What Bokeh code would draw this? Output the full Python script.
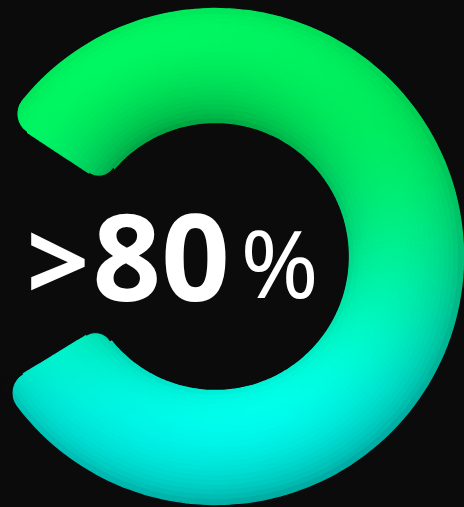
import numpy as np
from bokeh.plotting import figure
from bokeh.models import Range1d, GlobalInlineStyleSheet
from bokeh.embed import file_html
from bokeh.resources import INLINE
from bokeh.core.properties import value

# ---------------- data ----------------
percent = [82]
label_prefix = [">"]
label_value = ["80"]
label_suffix = ["%"]

# ---------------- style ----------------
BG = "#0b0b0b"
TOP_RGB = np.array([0, 248, 98])
BOTTOM_RGB = np.array([0, 255, 242])
W, H = 464, 507
CX, CY = 215.0, 251.0          # centre (y up, page pixels)
R_OUT, R_IN = 248.0, 134.0
GAP_CENTER = 179.0             # degrees
RHO_OUT, RHO_IN = 22.0, 17.0   # corner rounding
NA, NR = 148, 24

p = figure(width=W, height=H, x_range=Range1d(0, W), y_range=Range1d(0, H),
           output_backend="svg", toolbar_location=None, min_border=0,
           x_axis_type=None, y_axis_type=None,
           background_fill_color=BG, border_fill_color=BG, outline_line_color=None)
p.grid.visible = False
p.stylesheets = [GlobalInlineStyleSheet(css="html, body { background: %s; }" % BG)]

span = percent[0] / 100.0 * 360.0
gap = 360.0 - span
a_top = np.radians(GAP_CENTER - gap / 2.0)
a_bot = np.radians(GAP_CENTER + gap / 2.0 - 360.0)

a_edges = np.linspace(a_bot, a_top, NA + 1)
r_edges = np.linspace(R_IN, R_OUT, NR + 1)
A0, R0 = np.meshgrid(a_edges[:-1], r_edges[:-1], indexing="ij")
A1, R1 = np.meshgrid(a_edges[1:], r_edges[1:], indexing="ij")
A0, A1, R0, R1 = A0.ravel(), A1.ravel(), R0.ravel(), R1.ravel()
ac = (A0 + A1) / 2
rc = (R0 + R1) / 2

# vertical gradient (top green -> bottom cyan)
ycell = CY + rc * np.sin(ac)
top_y, bot_y = CY + R_OUT, CY - R_OUT
t = np.clip((top_y - ycell) / (top_y - bot_y), 0, 1)
u_ = np.clip((t - 0.18) / 0.72, 0, 1)
t = u_ * u_ * (3 - 2 * u_)
base = TOP_RGB[None, :] + t[:, None] * (BOTTOM_RGB - TOP_RGB)[None, :]

# tube shading
mid = (R_OUT + R_IN) / 2
half = (R_OUT - R_IN) / 2
s = np.clip((rc - mid) / half, -1, 1)
ux, uy = np.cos(ac), np.sin(ac)
L = np.array([-0.25, 0.55, 0.8])
L = L / np.linalg.norm(L)
ndotl = s * ux * L[0] + s * uy * L[1] + np.sqrt(1 - s ** 2) * L[2]
d = np.clip((ndotl + 0.6) / 1.6, 0, 1)
b = 0.62 + 0.38 * d
rgb = np.clip(base * b[:, None], 0, 255).astype(int)
colors = ["#%02x%02x%02x" % tuple(c) for c in rgb]

p.annular_wedge(x=CX, y=CY, inner_radius=R0, outer_radius=R1,
                start_angle=A0, end_angle=A1, direction="anticlock",
                fill_color=colors, line_color=colors, line_width=1.3)

# rounded end corners (background masks)
def corner_mask(theta, rad, inward, tdir, rho):
    u = np.array([np.cos(theta), np.sin(theta)])
    tt = tdir * np.array([-np.sin(theta), np.cos(theta)])
    dvec = inward * u
    P = np.array([CX, CY]) + rad * u
    C = P + rho * dvec + rho * tt
    beta = np.linspace(0, np.pi / 2, 20)
    arc = [C - rho * (np.cos(bb) * dvec + np.sin(bb) * tt) for bb in beta]
    Bp = P + rho * tt
    Ap = P + rho * dvec
    out = P - 4 * dvec - 4 * tt
    pts = [Bp - 4 * dvec] + arc + [Ap - 4 * tt, out]
    return [q[0] for q in pts], [q[1] for q in pts]

xs, ys = [], []
for theta, tdir in ((a_top, -1), (a_bot, 1)):
    for rad, inward, rho in ((R_OUT, -1, RHO_OUT), (R_IN, 1, RHO_IN)):
        mx, my = corner_mask(theta, rad, inward, tdir, rho)
        xs.append(mx)
        ys.append(my)
p.patches(xs, ys, fill_color=BG, line_color=BG, line_width=1)

# label
BASE_Y = 250
p.text(x=[26], y=[BASE_Y], text=label_prefix, text_font=value("Noto Sans"),
       text_font_style="bold", text_font_size="110px", text_color="white",
       text_baseline="alphabetic", text_align="left")
p.text(x=[92], y=[BASE_Y], text=label_value, text_font=value("Noto Sans"),
       text_font_style="bold", text_font_size="120px", text_color="white",
       text_baseline="alphabetic", text_align="left")
p.text(x=[240], y=[BASE_Y - 4], text=label_suffix, text_font=value("Noto Sans"),
       text_font_style="normal", text_font_size="94px", text_color="white",
       text_baseline="alphabetic", text_align="left")

open("out.html", "w").write(file_html(p, INLINE))
